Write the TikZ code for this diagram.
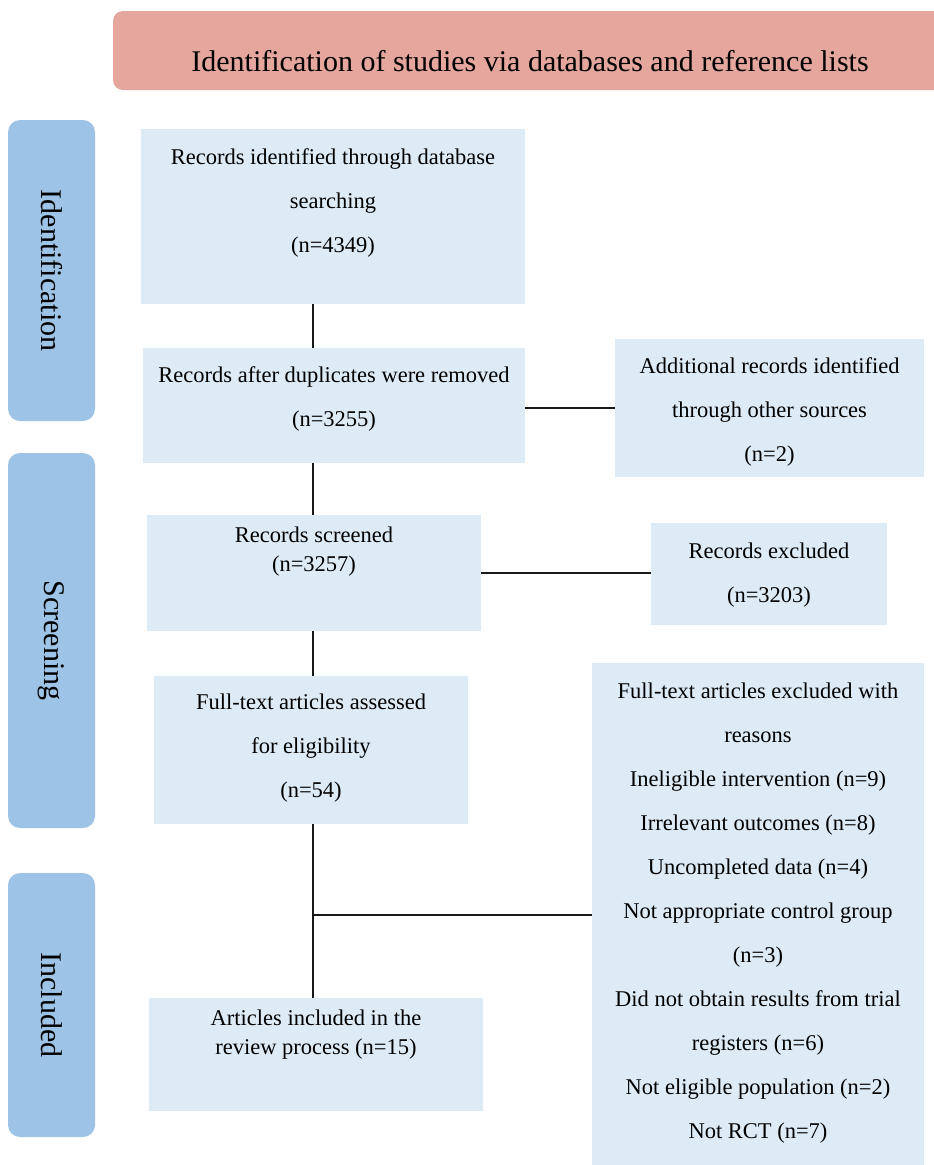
\documentclass[tikz,border=0pt]{standalone}
\usepackage{fontspec}
\setmainfont{Liberation Serif}
\usetikzlibrary{calc}
\definecolor{header-red}{RGB}{228,166,157}
\definecolor{stage-blue}{RGB}{157,195,230}
\definecolor{box-blue}{RGB}{221,235,247}
\tikzstyle{flowbox}=[fill=box-blue,inner sep=0pt]
\tikzstyle{flowtext}=[align=center,inner sep=0pt,font=\fontsize{22.5}{44}\selectfont]
\tikzstyle{tighttext}=[align=center,inner sep=0pt,font=\fontsize{22.5}{29}\selectfont]
\tikzstyle{stagebar}=[fill=stage-blue,rounded corners=12pt,inner sep=0pt]
\tikzstyle{link}=[black!90,line width=2pt]
\newcommand{\flowbox}[5]{% Syntax: {name}{left}{top}{right}{bottom}
  \node[flowbox,minimum width=#4-#2,minimum height=#5-#3] (#1) at ({(#2+#4)/2},{(#3+#5)/2}) {};
}
\newcommand{\stagebar}[4]{% Syntax: {name}{top}{bottom}{label}
  \node[stagebar,minimum width=87,minimum height=#3-#2] (#1) at (51.5,{(#2+#3)/2}) {};
  \node[rotate=-90,inner sep=0pt,font=\fontsize{30}{36}\selectfont] (#1-text) at (#1.center) {#4};
}

\begin{document}
\begin{tikzpicture}[x=1pt,y=-1pt]
	\useasboundingbox (0,0) rectangle (934,1165);
	\clip (0,0) rectangle (934,1165);
	% header
	\node[fill=header-red,rounded corners=10pt,inner sep=0pt,minimum width=837,minimum height=79] (header) at (531.5,50.5) {};
	\node[anchor=base,inner sep=0pt,font=\fontsize{30}{36}\selectfont] (title) at (530,71.5) {Identification of studies via databases and reference lists};
	% stages
	\stagebar{ident}{120}{421}{Identification}
	\stagebar{screen}{453}{828}{Screening}
	\stagebar{incl}{873}{1137}{Included}
	% boxes
	\flowbox{search}{141}{129}{525}{304}
	\flowbox{dedup}{143}{348}{525}{463}
	\flowbox{other}{615}{339}{924}{477}
	\flowbox{screened}{147}{515}{481}{631}
	\flowbox{excluded}{651}{523}{887}{625}
	\flowbox{fulltext}{154}{676}{468}{824}
	\flowbox{reasons}{592}{663}{924}{1167}
	\flowbox{included}{149}{998}{483}{1111}
	% box texts
	\node[flowtext] (search-text) at (333,202.5) {Records identified through database\\searching\\(n=4349)};
	\node[flowtext] (dedup-text) at (334,399) {Records after duplicates were removed\\(n=3255)};
	\node[flowtext] (other-text) at (769.5,412) {Additional records identified\\through other sources\\(n=2)};
	\node[tighttext] (screened-text) at (314,552) {Records screened\\(n=3257)};
	\node[flowtext] (excluded-text) at (769,575.5) {Records excluded\\(n=3203)};
	\node[flowtext] (fulltext-text) at (311,748.5) {Full-text articles assessed\\for eligibility\\(n=54)};
	\node[flowtext] (reasons-text) at (758,913.5) {Full-text articles excluded with\\reasons\\Ineligible intervention (n=9)\\Irrelevant outcomes (n=8)\\Uncompleted data (n=4)\\Not appropriate control group\\(n=3)\\Did not obtain results from trial\\registers (n=6)\\Not eligible population (n=2)\\Not RCT (n=7)};
	\node[tighttext] (included-text) at (316,1034.5) {Articles included in the\\review process (n=15)};
	% connectors
	\coordinate (spine) at (313,0);
	\draw[link] (search.south -| spine) -- (dedup.north -| spine);
	\draw[link] (dedup.south -| spine) -- (screened.north -| spine);
	\draw[link] (screened.south -| spine) -- (fulltext.north -| spine);
	\draw[link] (fulltext.south -| spine) -- (included.north -| spine);
	\draw[link] (dedup.east |- other.west) -- (other.west);
	\draw[link] (screened.east) -- (screened.east -| excluded.west);
	\draw[link] (spine |- reasons.west) -- (reasons.west);
\end{tikzpicture}
\end{document}
